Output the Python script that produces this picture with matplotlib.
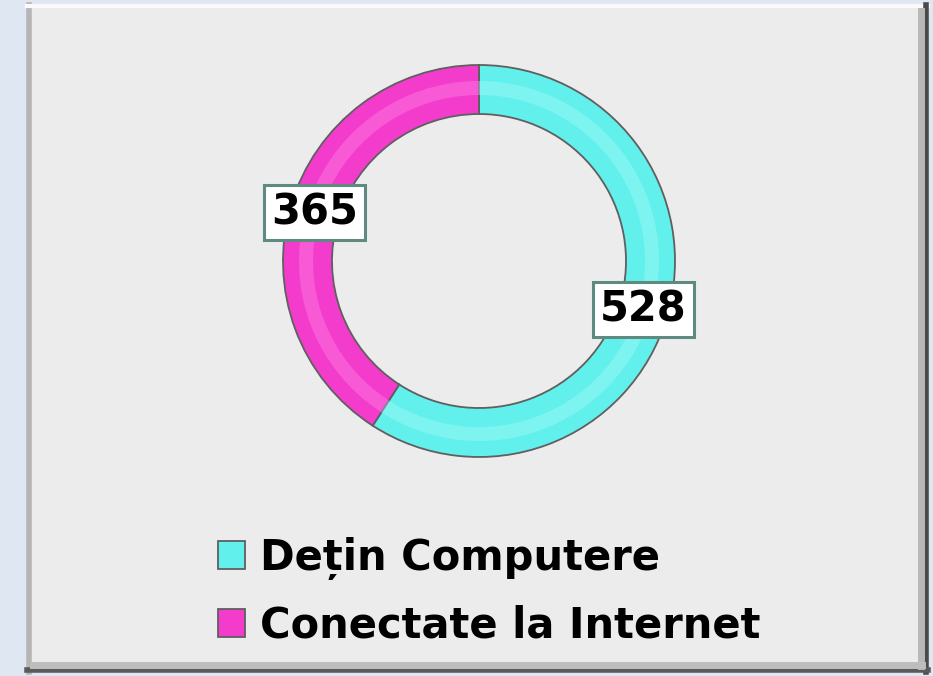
import matplotlib.pyplot as plt
import matplotlib.patches as mpatches
import numpy as np

# data
labels = ["Dețin Computere", "Conectate la Internet"]
values = [528, 365]
colors = ["#62f0ec", "#f43ccc"]
hilite = ["#9ffaf7", "#ff7ee2"]

W, H = 933, 676
fig = plt.figure(figsize=(W / 100, H / 100), dpi=100)
fig.patch.set_facecolor("#dfe8f2")
ax = fig.add_axes([0, 0, 1, 1])

# panel (pixel coords, y flipped)
def py(y):
    return H - y

px0, px1, py0, py1 = 27, 928, 5, 672
ax.add_patch(mpatches.Rectangle((px0, py(py1)), px1 - px0, py1 - py0,
                                facecolor="#ececec", edgecolor="none", zorder=0))
# bevel edges
ax.plot([px0 + 2, px0 + 2], [py(py0), py(py1)], color="#b5b5b5", lw=4, zorder=1)
ax.plot([px0, px1], [py(py0 + 1), py(py0 + 1)], color="#fafafa", lw=3, zorder=1)
ax.plot([px1 - 2, px1 - 2], [py(py0), py(py1)], color="#4a4a4a", lw=4, zorder=1)
ax.plot([px0, px1], [py(py1 - 2), py(py1 - 2)], color="#5a5a5a", lw=4, zorder=1)
ax.plot([px1 - 7, px1 - 7], [py(py0 + 6), py(py1 - 6)], color="#b8b8b8", lw=5, zorder=1)
ax.plot([px0 + 6, px1 - 6], [py(py1 - 7), py(py1 - 7)], color="#bdbdbd", lw=5, zorder=1)

# donut
cx, cy, r, w = 479, py(261), 196, 49
wedges, _ = ax.pie(values, colors=colors, startangle=90, counterclock=False,
                   center=(cx, cy), radius=r, frame=True,
                   wedgeprops=dict(width=w, edgecolor="#5f5f5f", linewidth=1.3))
# soft highlight band
ax.pie(values, colors=hilite, startangle=90, counterclock=False,
       center=(cx, cy), radius=r - 16, frame=True,
       wedgeprops=dict(width=14, edgecolor="none", alpha=0.45))

ax.set_xlim(0, W)
ax.set_ylim(0, H)
ax.set_aspect("equal")
ax.axis("off")

# value labels in the middle of each ring segment
for wd, v in zip(wedges, values):
    ang = np.deg2rad((wd.theta1 + wd.theta2) / 2)
    rm = r - w / 2
    ax.text(cx + rm * np.cos(ang), cy + rm * np.sin(ang), str(v),
            ha="center", va="center", fontsize=30, fontweight="bold",
            color="black", zorder=5,
            bbox=dict(boxstyle="square,pad=0.16", facecolor="white",
                      edgecolor="#5e8a82", linewidth=2.2))

# legend
leg = ax.legend(wedges, labels, loc="center left",
                bbox_to_anchor=(218 / W, 1 - 592 / H), frameon=False,
                prop=dict(size=30, weight="bold"), handlelength=0.65,
                handleheight=0.65, handletextpad=0.35, labelspacing=0.6,
                borderpad=0, borderaxespad=0)

fig.savefig("out.png", dpi=100, facecolor=fig.get_facecolor())
